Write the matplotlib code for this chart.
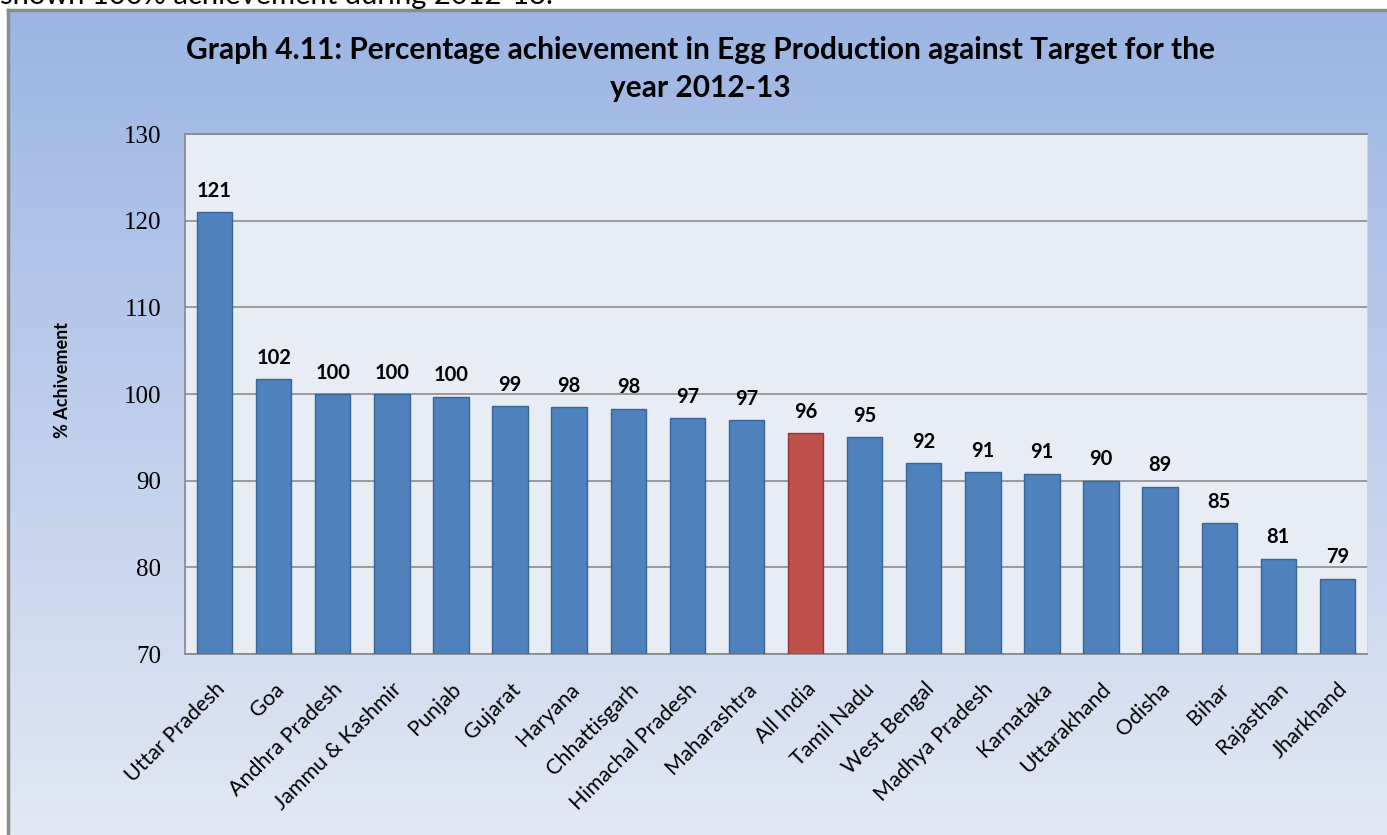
import numpy as np
import matplotlib
matplotlib.use("Agg")
import matplotlib.pyplot as plt

# data
states = ["Uttar Pradesh", "Goa", "Andhra Pradesh", "Jammu & Kashmir", "Punjab",
          "Gujarat", "Haryana", "Chhattisgarh", "Himachal Pradesh", "Maharashtra",
          "All India", "Tamil Nadu", "West Bengal", "Madhya Pradesh", "Karnataka",
          "Uttarakhand", "Odisha", "Bihar", "Rajasthan", "Jharkhand"]
achievement = [121.0, 101.7, 100.0, 100.0, 99.7, 98.6, 98.5, 98.3, 97.2, 97.0,
               95.5, 95.0, 92.0, 91.0, 90.8, 90.0, 89.3, 85.1, 81.0, 78.7]
labels = ["121", "102", "100", "100", "100", "99", "98", "98", "97", "97",
          "96", "95", "92", "91", "91", "90", "89", "85", "81", "79"]
highlight = "All India"
yticks = [70, 80, 90, 100, 110, 120, 130]

blue = "#4f81bd"
red = "#c0504d"

fig = plt.figure(figsize=(13.87, 8.35), dpi=100)
fig.patch.set_facecolor("white")

# chart area background with vertical gradient
L, T = 8 / 1387, 1 - 10 / 835
bg = fig.add_axes([L, 0, 1 - L, T], zorder=0)
grad = np.linspace(0, 1, 256).reshape(-1, 1)
top_c = np.array([0x9b, 0xb5, 0xe3]) / 255
bot_c = np.array([0xe2, 0xe8, 0xf4]) / 255
img = top_c + (bot_c - top_c) * grad[:, :, None]
bg.imshow(img, aspect="auto", extent=[0, 1, 0, 1], origin="upper")
bg.set_axis_off()
fig.add_artist(plt.Line2D([L, L], [0, T], color="#8c8c8c", lw=2.5, transform=fig.transFigure))
fig.add_artist(plt.Line2D([L, 1], [T, T], color="#8c8c8c", lw=2.5, transform=fig.transFigure))

# cut-off sentence from the page above the chart
fig.text(0.0, 1 - 4 / 835, "shown 100% achievement during 2012-13.", family="Lato",
         fontsize=21, va="baseline", ha="left", color="black")

ax = fig.add_axes([185 / 1387, 1 - 654 / 835, (1367 - 185) / 1387, (654 - 134) / 835], zorder=1)
ax.set_facecolor("#e8edf5")

x = np.arange(len(states))
colors = [red if s == highlight else blue for s in states]
edges = ["#8c3836" if s == highlight else "#3a6496" for s in states]
ax.bar(x, np.array(achievement) - 70, bottom=70, width=0.6, color=colors,
       edgecolor=edges, linewidth=1, zorder=3)

for xi, v, lab in zip(x, achievement, labels):
    ax.text(xi, v + 1.3, lab, ha="center", va="bottom", fontsize=14.5,
            fontweight="bold", family="Lato", color="black")

ax.set_xlim(-0.5, len(states) - 0.5)
ax.set_ylim(70, 130)
ax.set_yticks(yticks)
ax.set_yticklabels([str(t) for t in yticks], family="Liberation Serif", fontsize=18)
ax.yaxis.grid(True, color="#8c8c8c", lw=1.2, zorder=0)
ax.set_axisbelow(True)
ax.tick_params(axis="y", length=0, pad=17)
ax.tick_params(axis="x", length=0, pad=18)
ax.set_xticks(x)
ax.set_xticklabels(states, rotation=45, ha="right", rotation_mode="anchor",
                   family="Lato", fontsize=15.5)
for sp in ["left", "bottom", "top"]:
    ax.spines[sp].set_color("#8c8c8c")
    ax.spines[sp].set_linewidth(1.3)
ax.spines["right"].set_color("#c8d2e6")

fig.text(62 / 1387, 1 - 380 / 835, "% Achivement", rotation=90, ha="center", va="center",
         family="Lato", fontsize=13, fontweight="bold")

fig.text(700 / 1387, 1 - 50 / 835,
         "Graph 4.11: Percentage achievement in Egg Production against Target for the",
         ha="center", va="center", family="Lato", fontsize=21.5, fontweight="bold")
fig.text(700 / 1387, 1 - 88 / 835, "year 2012-13",
         ha="center", va="center", family="Lato", fontsize=21.5, fontweight="bold")

fig.savefig("out.png", dpi=100)
